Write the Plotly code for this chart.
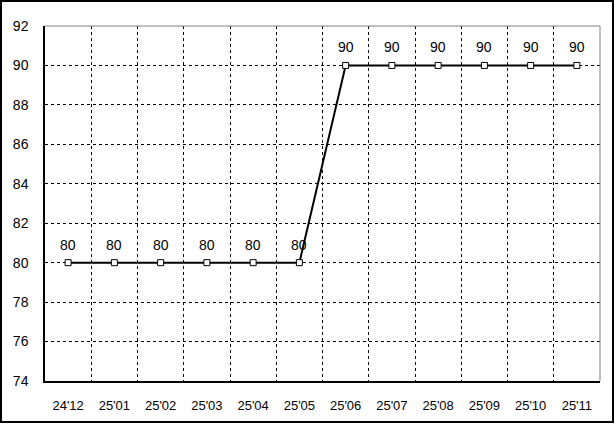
import plotly.graph_objects as go

categories = ["24'12", "25'01", "25'02", "25'03", "25'04", "25'05",
              "25'06", "25'07", "25'08", "25'09", "25'10", "25'11"]
values = [80, 80, 80, 80, 80, 80, 90, 90, 90, 90, 90, 90]
y_ticks = [74, 76, 78, 80, 82, 84, 86, 88, 90, 92]

FONT = "Liberation Sans"

fig = go.Figure()
fig.add_trace(go.Scatter(
    x=categories, y=values, mode="lines+markers",
    line=dict(color="black", width=2),
    marker=dict(symbol="square", size=6, color="white",
                line=dict(color="black", width=1)),
    showlegend=False, hoverinfo="skip",
))

for c, v in zip(categories, values):
    fig.add_annotation(x=c, y=v, text=str(v), showarrow=False,
                       yshift=18, font=dict(family=FONT, size=14, color="black"))

L, R, T, B = 45, 15, 26, 43
W, H = 615, 424
pw, ph = W - L - R, H - T - B

def px(x):
    return (x - L) / pw

def py(y):
    return (H - B - y) / ph

# outer border
fig.add_shape(type="rect", xref="paper", yref="paper",
              x0=px(1), x1=px(613), y0=py(1), y1=py(422),
              line=dict(color="black", width=2), layer="above")
# top and right grey frame
fig.add_shape(type="line", xref="paper", yref="paper", x0=0, x1=1, y0=1, y1=1,
              line=dict(color="#808080", width=1))
fig.add_shape(type="line", xref="paper", yref="paper", x0=1, x1=1, y0=0, y1=1,
              line=dict(color="#808080", width=1))

fig.update_xaxes(
    type="category", range=[-0.5, 11.5], tickson="boundaries",
    showgrid=True, gridcolor="black", gridwidth=1, griddash="3px,3px",
    showline=True, linecolor="black", linewidth=1.5,
    ticks="", ticklabelstandoff=12, zeroline=False, automargin=False,
    tickfont=dict(family=FONT, size=13, color="black"),
)
fig.update_yaxes(
    range=[74, 92], tickvals=y_ticks,
    showgrid=True, gridcolor="black", gridwidth=1, griddash="3px,3px",
    showline=True, linecolor="black", linewidth=1.5,
    ticks="", ticklabelstandoff=12, zeroline=False, automargin=False,
    tickfont=dict(family=FONT, size=14, color="black"),
)

fig.update_layout(
    width=W, height=H,
    margin=dict(l=L, r=R, t=T, b=B, pad=0),
    paper_bgcolor="white", plot_bgcolor="white",
)

fig.write_html(
    "out.html",
    config={"displayModeBar": False},
    post_script="document.body.style.margin='0';document.body.style.overflow='hidden';",
)
